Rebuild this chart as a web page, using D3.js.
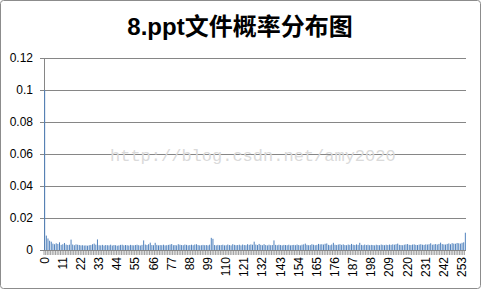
<!DOCTYPE html>
<html>
<head>
<meta charset="utf-8">
<script src="https://cdn.jsdelivr.net/npm/d3@7"></script>
<style>
  body { margin: 0; background: #fff; }
  svg { display: block; }
</style>
</head>
<body>
<div id="chart"></div>
<script>
// Data
const title = "8.ppt文件概率分布图";
const watermark = "http://blog.csdn.net/amy2020";
const byteValues = d3.range(256).map(String);
const probabilities = [
  0.1000, 0.0090, 0.0072, 0.0058, 0.0052, 0.0040, 0.0036, 0.0042, 0.0038, 0.0048, 0.0032, 0.0036, 0.0044, 0.0034, 0.0031, 0.0033,
  0.0065, 0.0034, 0.0030, 0.0035, 0.0033, 0.0031, 0.0029, 0.0030, 0.0028, 0.0029, 0.0027, 0.0030, 0.0031, 0.0036, 0.0040, 0.0033,
  0.0066, 0.0030, 0.0029, 0.0032, 0.0028, 0.0031, 0.0030, 0.0029, 0.0033, 0.0028, 0.0031, 0.0030, 0.0027, 0.0029, 0.0032, 0.0033,
  0.0029, 0.0031, 0.0030, 0.0028, 0.0032, 0.0030, 0.0029, 0.0031, 0.0033, 0.0030, 0.0028, 0.0032, 0.0060, 0.0034, 0.0031, 0.0036,
  0.0046, 0.0031, 0.0030, 0.0045, 0.0032, 0.0029, 0.0031, 0.0030, 0.0033, 0.0029, 0.0030, 0.0032, 0.0034, 0.0037, 0.0030, 0.0031,
  0.0029, 0.0036, 0.0033, 0.0031, 0.0030, 0.0034, 0.0032, 0.0029, 0.0031, 0.0033, 0.0030, 0.0034, 0.0036, 0.0031, 0.0029, 0.0030,
  0.0032, 0.0030, 0.0031, 0.0029, 0.0033, 0.0076, 0.0070, 0.0031, 0.0029, 0.0032, 0.0030, 0.0031, 0.0033, 0.0029, 0.0030, 0.0034,
  0.0031, 0.0029, 0.0036, 0.0032, 0.0030, 0.0031, 0.0033, 0.0029, 0.0034, 0.0031, 0.0030, 0.0036, 0.0032, 0.0035, 0.0033, 0.0052,
  0.0034, 0.0031, 0.0038, 0.0032, 0.0030, 0.0036, 0.0031, 0.0029, 0.0033, 0.0030, 0.0031, 0.0060, 0.0032, 0.0030, 0.0033, 0.0031,
  0.0029, 0.0032, 0.0031, 0.0030, 0.0033, 0.0029, 0.0031, 0.0032, 0.0030, 0.0034, 0.0031, 0.0029, 0.0033, 0.0035, 0.0040, 0.0032,
  0.0030, 0.0031, 0.0036, 0.0033, 0.0030, 0.0032, 0.0038, 0.0035, 0.0036, 0.0034, 0.0039, 0.0041, 0.0032, 0.0030, 0.0034, 0.0045,
  0.0033, 0.0031, 0.0034, 0.0036, 0.0032, 0.0035, 0.0031, 0.0030, 0.0034, 0.0032, 0.0038, 0.0033, 0.0031, 0.0035, 0.0032, 0.0045,
  0.0032, 0.0030, 0.0034, 0.0031, 0.0033, 0.0030, 0.0032, 0.0031, 0.0029, 0.0033, 0.0031, 0.0030, 0.0034, 0.0032, 0.0030, 0.0033,
  0.0031, 0.0034, 0.0032, 0.0035, 0.0033, 0.0036, 0.0040, 0.0032, 0.0031, 0.0030, 0.0033, 0.0035, 0.0037, 0.0032, 0.0031, 0.0034,
  0.0035, 0.0032, 0.0031, 0.0034, 0.0036, 0.0033, 0.0032, 0.0035, 0.0034, 0.0036, 0.0042, 0.0033, 0.0035, 0.0037, 0.0034, 0.0038,
  0.0046, 0.0037, 0.0035, 0.0034, 0.0038, 0.0041, 0.0036, 0.0043, 0.0040, 0.0039, 0.0044, 0.0042, 0.0040, 0.0045, 0.0048, 0.0108
];
const yTicks = [0, 0.02, 0.04, 0.06, 0.08, 0.1, 0.12];
const xTickLabels = ["0", "11", "22", "33", "44", "55", "66", "77", "88", "99", "110", "121", "132", "143",
  "154", "165", "176", "187", "198", "209", "220", "231", "242", "253"];

// Sizes
const width = 481;
const height = 289;
const margin = { top: 58, right: 15, bottom: 39, left: 44 };
const gridColor = "#868686";
const labelFont = "Liberation Sans, Arial, sans-serif";

const svg = d3.select("#chart")
  .append("svg")
    .attr("width", width)
    .attr("height", height);

// Outer frame
svg.append("rect")
  .attr("x", 0.5).attr("y", 0.5)
  .attr("width", width - 1).attr("height", height - 1)
  .attr("rx", 3)
  .attr("fill", "#fff")
  .attr("stroke", "#8c8c8c");

// Scales
const x = d3.scaleBand()
  .domain(byteValues)
  .range([margin.left, width - margin.right])
  .paddingInner(0.4)
  .paddingOuter(0.1);

const y = d3.scaleLinear()
  .domain([0, 0.12])
  .range([height - margin.bottom, margin.top]);

// Gridlines + y axis
const yAxis = svg.append("g")
  .attr("transform", `translate(${margin.left},0)`)
  .call(d3.axisLeft(y).tickValues(yTicks).tickSize(4).tickPadding(7)
    .tickFormat(d => d3.format("~g")(+d.toFixed(2))));

yAxis.select(".domain").attr("stroke", gridColor);
yAxis.selectAll(".tick line").attr("stroke", gridColor);
yAxis.selectAll(".tick text")
  .attr("font-family", labelFont)
  .attr("font-size", 12)
  .attr("fill", "#000");

svg.append("g")
  .selectAll("line")
  .data(yTicks.filter(d => d > 0))
  .enter().append("line")
    .attr("x1", margin.left)
    .attr("x2", width - margin.right)
    .attr("y1", d => Math.round(y(d)) + 0.5)
    .attr("y2", d => Math.round(y(d)) + 0.5)
    .attr("stroke", gridColor);

// Watermark
svg.append("text")
  .attr("x", 110)
  .attr("y", 161)
  .attr("font-family", "Liberation Mono, DejaVu Sans Mono, monospace")
  .attr("font-size", 17)
  .attr("fill", "#dadada")
  .text(watermark);

// Bars
svg.append("g")
  .selectAll("rect")
  .data(probabilities)
  .enter().append("rect")
    .attr("x", (d, i) => x(byteValues[i]))
    .attr("width", x.bandwidth())
    .attr("y", d => y(d))
    .attr("height", d => y(0) - y(d))
    .attr("fill", "#4f81bd");

// X axis: a tick on every category, labels every 11
const plotWidth = width - margin.left - margin.right;
svg.append("g")
  .selectAll("line")
  .data(byteValues)
  .enter().append("line")
    .attr("x1", (d, i) => margin.left + i * plotWidth / byteValues.length)
    .attr("x2", (d, i) => margin.left + i * plotWidth / byteValues.length)
    .attr("y1", y(0))
    .attr("y2", y(0) + 5)
    .attr("stroke", gridColor)
    .attr("stroke-width", 0.8);

svg.append("line")
  .attr("x1", margin.left)
  .attr("x2", width - margin.right)
  .attr("y1", Math.round(y(0)) + 0.5)
  .attr("y2", Math.round(y(0)) + 0.5)
  .attr("stroke", gridColor);

svg.append("g")
  .selectAll("text")
  .data(xTickLabels)
  .enter().append("text")
    .attr("transform", d => `translate(${x(d) + x.bandwidth() / 2 + 4},${y(0) + 7}) rotate(-90)`)
    .attr("text-anchor", "end")
    .attr("font-family", labelFont)
    .attr("font-size", 12)
    .text(d => d);

// Title
svg.append("text")
  .attr("x", 240)
  .attr("y", 35)
  .attr("text-anchor", "middle")
  .attr("font-family", "Liberation Sans, Noto Sans CJK SC, sans-serif")
  .attr("font-weight", "bold")
  .attr("font-size", 24)
  .text(title);
</script>
</body>
</html>
